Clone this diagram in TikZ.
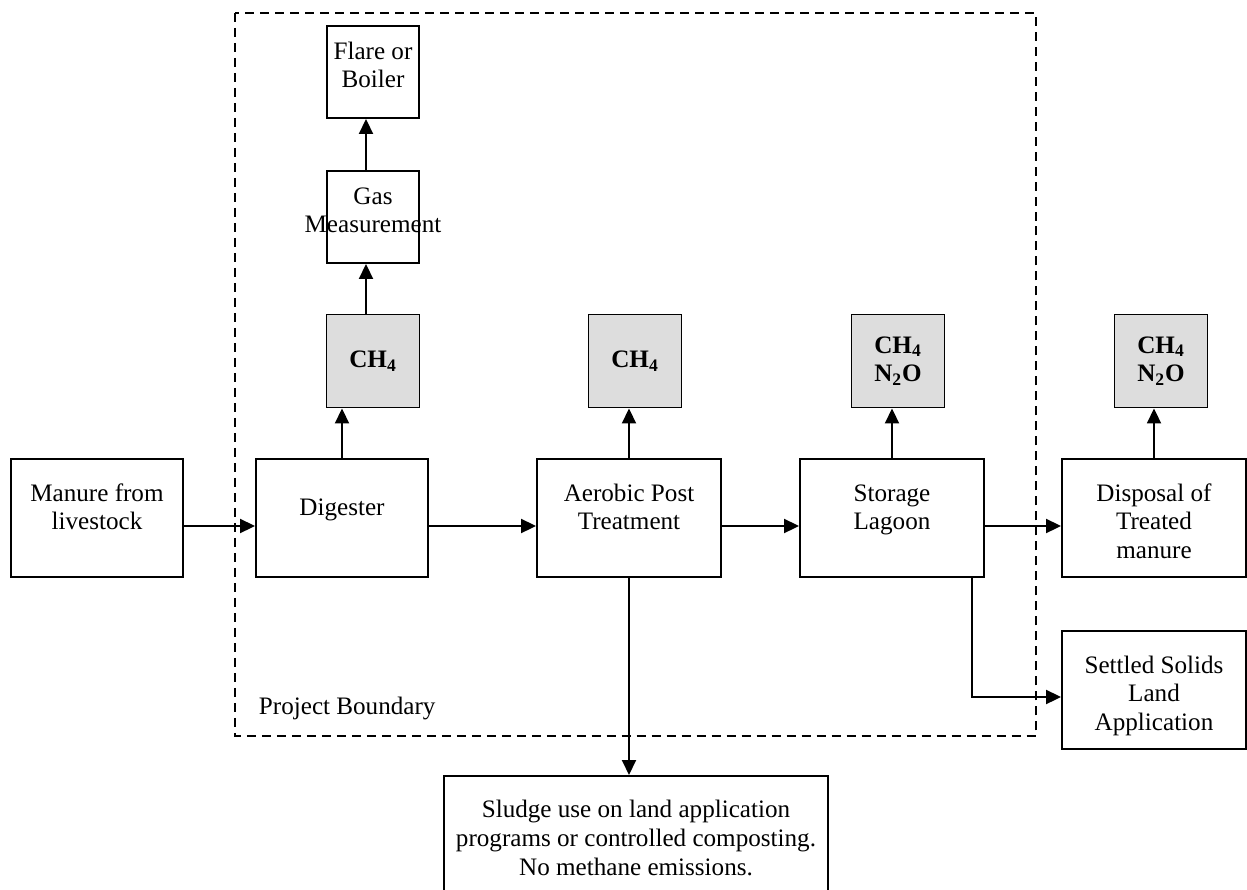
\documentclass[tikz,border=0pt]{standalone}
\usepackage{fontspec}
\setmainfont{Liberation Serif}
\usetikzlibrary{arrows.meta,positioning}
\definecolor{gasgrey}{HTML}{DDDDDD}

\begin{document}
\begin{tikzpicture}[x=0.02cm,y=-0.02cm,->,>={Triangle[length=0.3cm,width=0.28cm]},
                    line width=1.1pt,
                    font=\fontsize{14.3}{16.4}\selectfont,
                    proc/.style={draw,-,rectangle,inner sep=0pt,minimum width=3.68cm,
                                 text width=3.5cm,align=flush center,
                                 text height=0.84cm,text depth=1.52cm},
                    small/.style={proc,minimum width=3.44cm,text width=3.3cm},
                    unit/.style={proc,minimum width=1.84cm,text width=1.7cm,
                                 text height=0.66cm,text depth=1.18cm},
                    ghg/.style={draw,-,rectangle,fill=gasgrey,inner sep=0pt,
                                minimum width=1.86cm,minimum height=1.86cm,
                                align=center,font=\fontsize{14.3}{16.4}\selectfont\bfseries}]

        \useasboundingbox (0,0) rectangle (1247,889);
        \clip (0,0) rectangle (1247,889);

        % project boundary
        \draw[-,line width=1pt,dash pattern=on 0.18cm off 0.12cm] (235,13) rectangle (1036,736);
        \node[anchor=base west,inner sep=0pt] (pb) at (258,714) {Project Boundary};

        \node[small] (man) at (97,518) {Manure from\\livestock};
        \node[small,text height=1.12cm,text depth=1.24cm] (dig) at (342,518) {Digester};
        \node[proc] (aer) at (629,518) {Aerobic Post\\Treatment};
        \node[proc] (sto) at (892,518) {Storage\\Lagoon};
        \node[proc] (dis) at (1154,518) {Disposal of\\Treated\\manure};
        \node[proc] (set) at (1154,690) {Settled Solids\\Land\\Application};
        \node[proc,minimum width=7.68cm,text width=7.4cm,anchor=north] (slu) at (636,775)
             {Sludge use on land application\\programs or controlled composting.\\No methane emissions.};

        \node[ghg] (ch4a) at (373,361) {CH\textsubscript{4}};
        \node[ghg] (ch4b) at (635,361) {CH\textsubscript{4}};
        \node[ghg] (ch4c) at (898,361) {CH\textsubscript{4}\\N\textsubscript{2}O};
        \node[ghg] (ch4d) at (1161,361) {CH\textsubscript{4}\\N\textsubscript{2}O};

        \node[unit] (gasm) at (373,217) {Gas\\\makebox[0pt]{Measurement}};
        \node[unit] (flare) at (373,72) {Flare or\\Boiler};

        \draw ([yshift=-0.16cm]man.east) -- ([yshift=-0.16cm]dig.west);
        \draw ([yshift=-0.16cm]dig.east) -- ([yshift=-0.16cm]aer.west);
        \draw ([yshift=-0.16cm]aer.east) -- ([yshift=-0.16cm]sto.west);
        \draw ([yshift=-0.16cm]sto.east) -- ([yshift=-0.16cm]dis.west);

        \draw (dig.north) -- (dig.north |- ch4a.south);
        \draw (aer.north) -- (aer.north |- ch4b.south);
        \draw (sto.north) -- (sto.north |- ch4c.south);
        \draw (dis.north) -- (dis.north |- ch4d.south);
        \draw ([xshift=-0.14cm]ch4a.north) -- ([xshift=-0.14cm]gasm.south);
        \draw ([xshift=-0.14cm]gasm.north) -- ([xshift=-0.14cm]flare.south);

        \draw (aer.south) -- (aer.south |- slu.north);
        \draw ([xshift=-0.26cm]sto.south east) |- ([yshift=-0.14cm]set.west);
      \end{tikzpicture}
\end{document}
